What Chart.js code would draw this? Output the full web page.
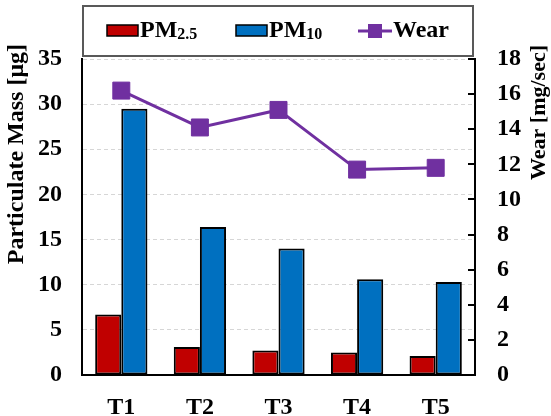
<!DOCTYPE html>
<html>
<head>
<meta charset="utf-8">
<script src="https://cdn.jsdelivr.net/npm/chart.js@4/dist/chart.umd.min.js"></script>
<style>
  html, body { margin: 0; padding: 0; background: #fff; }
  #c { display: block; }
</style>
</head>
<body>
<canvas id="c" width="551" height="416"></canvas>
<script>
// Test conditions
const categories = ['T1', 'T2', 'T3', 'T4', 'T5'];
// Particulate mass per test [µg]
const pm25 = [6.7, 3.1, 2.7, 2.5, 2.1];
const pm10 = [29.5, 16.4, 14.0, 10.6, 10.3];
// Wear rate [mg/sec]
const wear = [16.2, 14.1, 15.1, 11.7, 11.8];
// Axis settings
const massTicks = { min: 0, max: 35, step: 5 };
const wearTicks = { min: 0, max: 18, step: 2 };

const RED = '#C00000';
const BLUE = '#0070C0';
const PURPLE = '#7030A0';
const FONT = 'Liberation Serif, Times New Roman, serif';

// Legend box, axis titles and inward ticks on the wear axis
const decorations = {
  id: 'decorations',
  afterDraw(chart) {
    const ctx = chart.ctx;
    const area = chart.chartArea;

    // inward tick marks on the right axis
    const yr = chart.scales.y1;
    ctx.save();
    ctx.strokeStyle = '#000';
    ctx.lineWidth = 2;
    for (const t of yr.ticks) {
      const y = Math.round(yr.getPixelForValue(t.value));
      ctx.beginPath();
      ctx.moveTo(area.right - 7, y);
      ctx.lineTo(area.right, y);
      ctx.stroke();
    }
    ctx.restore();

    // axis titles, reading bottom to top
    ctx.save();
    ctx.fillStyle = '#000';
    ctx.font = 'bold 24px ' + FONT;
    ctx.textBaseline = 'middle';
    ctx.textAlign = 'right';
    ctx.translate(17, 44);
    ctx.rotate(-Math.PI / 2);
    ctx.fillText('Particulate Mass [\u03bcg]', 0, 0);
    ctx.restore();

    ctx.save();
    ctx.fillStyle = '#000';
    ctx.font = 'bold 22px ' + FONT;
    ctx.textBaseline = 'middle';
    ctx.textAlign = 'right';
    ctx.translate(539, 45);
    ctx.rotate(-Math.PI / 2);
    ctx.fillText('Wear [mg/sec]', 0, 0);
    ctx.restore();

    // legend
    ctx.save();
    ctx.strokeStyle = '#595959';
    ctx.lineWidth = 2;
    ctx.strokeRect(83, 6, 390, 50);

    const base = 37;
    const drawSwatch = (x, color) => {
      ctx.fillStyle = color;
      ctx.fillRect(x, 25, 31, 11);
      ctx.strokeStyle = '#000';
      ctx.lineWidth = 1.5;
      ctx.strokeRect(x, 25, 31, 11);
    };
    const drawLabel = (x, main, sub) => {
      ctx.fillStyle = '#000';
      ctx.textAlign = 'left';
      ctx.textBaseline = 'alphabetic';
      ctx.font = 'bold 24px ' + FONT;
      ctx.fillText(main, x, base);
      const w = ctx.measureText(main).width;
      if (sub) {
        ctx.font = 'bold 16px ' + FONT;
        ctx.fillText(sub, x + w, base + 2);
      }
    };
    drawSwatch(107, RED);
    drawLabel(140, 'PM', '2.5');
    drawSwatch(236, BLUE);
    drawLabel(269, 'PM', '10');

    ctx.strokeStyle = PURPLE;
    ctx.lineWidth = 3;
    ctx.beginPath();
    ctx.moveTo(358, 31);
    ctx.lineTo(392, 31);
    ctx.stroke();
    ctx.fillStyle = PURPLE;
    ctx.fillRect(368, 24, 14, 14);
    drawLabel(393, 'Wear');
    ctx.restore();
  }
};

new Chart(document.getElementById('c'), {
  type: 'bar',
  data: {
    labels: categories,
    datasets: [
      {
        type: 'line',
        label: 'Wear',
        data: wear,
        yAxisID: 'y1',
        order: 0,
        borderColor: PURPLE,
        borderWidth: 3,
        backgroundColor: PURPLE,
        pointStyle: 'rect',
        pointRadius: 12,
        pointBorderWidth: 1,
        pointBackgroundColor: PURPLE,
        pointBorderColor: PURPLE,
        tension: 0
      },
      {
        label: 'PM2.5',
        data: pm25,
        yAxisID: 'y',
        order: 1,
        backgroundColor: RED,
        borderColor: '#000',
        borderWidth: 2,
        borderSkipped: false,
        categoryPercentage: 0.665,
        barPercentage: 1
      },
      {
        label: 'PM10',
        data: pm10,
        yAxisID: 'y',
        order: 1,
        backgroundColor: BLUE,
        borderColor: '#000',
        borderWidth: 2,
        borderSkipped: false,
        categoryPercentage: 0.665,
        barPercentage: 1
      }
    ]
  },
  options: {
    responsive: false,
    animation: false,
    layout: { padding: { top: 59, left: 0, right: 0, bottom: 0 } },
    plugins: {
      legend: { display: false },
      tooltip: { enabled: false },
      title: { display: false }
    },
    scales: {
      x: {
        grid: { display: false, drawTicks: false },
        border: { display: true, color: '#000', width: 2 },
        ticks: {
          color: '#000',
          padding: 18,
          font: { family: FONT, size: 24, weight: 'bold' }
        },
        afterFit(scale) { scale.height = 41; }
      },
      y: {
        position: 'left',
        min: massTicks.min,
        max: massTicks.max,
        grid: { color: '#d6d6d6', lineWidth: 1, drawTicks: false },
        border: { display: true, color: '#000', width: 2, dash: [4, 3] },
        ticks: {
          stepSize: massTicks.step,
          color: '#000',
          padding: 20,
          font: { family: FONT, size: 24, weight: 'bold' }
        },
        afterFit(scale) { scale.width = 82; }
      },
      y1: {
        position: 'right',
        min: wearTicks.min,
        max: wearTicks.max,
        grid: { drawOnChartArea: false, drawTicks: false },
        border: { display: true, color: '#000', width: 2 },
        ticks: {
          stepSize: wearTicks.step,
          color: '#000',
          padding: 22,
          font: { family: FONT, size: 24, weight: 'bold' }
        },
        afterFit(scale) { scale.width = 76; }
      }
    }
  },
  plugins: [decorations]
});
</script>
</body>
</html>
